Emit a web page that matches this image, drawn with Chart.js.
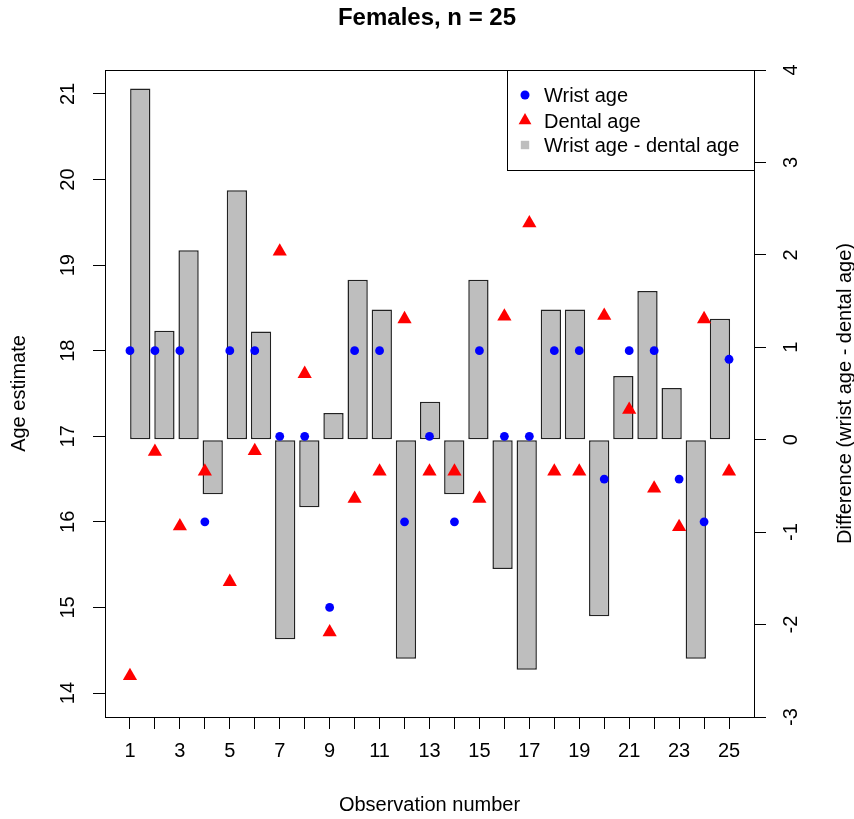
<!DOCTYPE html>
<html>
<head>
<meta charset="utf-8">
<title>Females, n = 25</title>
<script src="https://cdn.jsdelivr.net/npm/chart.js@4/dist/chart.umd.min.js"></script>
<style>
  html, body { margin: 0; padding: 0; background: #fff; }
  #wrap { width: 854px; height: 819px; }
</style>
</head>
<body>
<div id="wrap"><canvas id="ageChart" width="854" height="819"></canvas></div>
<script>
// observation numbers and the three series
const obs = [1, 2, 3, 4, 5, 6, 7, 8, 9, 10, 11, 12, 13, 14, 15, 16, 17, 18, 19, 20, 21, 22, 23, 24, 25];
const wristAge = [18, 18, 18, 16, 18, 18, 17, 17, 15, 18, 18, 16, 17, 16, 18, 17, 17, 18, 18, 16.5, 18, 18, 16.5, 16, 17.9];
const dentalAge = [14.2, 16.82, 15.95, 16.59, 15.3, 16.83, 19.16, 17.73, 14.71, 16.27, 16.59, 18.37, 16.59, 16.59, 16.27, 18.4, 19.49, 16.59, 16.59, 18.41, 17.31, 16.39, 15.94, 18.37, 16.59];
const ageDiff = [3.8, 1.18, 2.05, -0.59, 2.7, 1.17, -2.16, -0.73, 0.29, 1.73, 1.41, -2.37, 0.41, -0.59, 1.73, -1.4, -2.49, 1.41, 1.41, -1.91, 0.69, 1.61, 0.56, -2.37, 1.31];

const ageTicks = [14, 15, 16, 17, 18, 19, 20, 21];
const diffTicks = [-3, -2, -1, 0, 1, 2, 3, 4];

const FONT = '"Liberation Sans", Arial, sans-serif';
Chart.defaults.font.family = FONT;
Chart.defaults.font.size = 20;
Chart.defaults.color = "#000";

const tickGrid = { drawOnChartArea: false, drawTicks: true, tickLength: 12, color: "#000", lineWidth: 1 };
const axisBorder = { display: true, color: "#000", width: 1 };
const setTicks = list => scale => { scale.ticks = list.map(v => ({ value: v })); };

// box round the plot, the right-hand title (reads bottom to top) and the legend
const rFrame = {
  id: "rFrame",
  afterDraw(chart) {
    const { ctx, chartArea: a } = chart;
    ctx.save();
    ctx.strokeStyle = "#000";
    ctx.lineWidth = 1;
    ctx.strokeRect(a.left + 0.5, a.top + 0.5, a.right - a.left, a.bottom - a.top);

    ctx.save();
    ctx.translate(845, (a.top + a.bottom) / 2);
    ctx.rotate(-Math.PI / 2);
    ctx.font = "20px " + FONT;
    ctx.fillStyle = "#000";
    ctx.textAlign = "center";
    ctx.textBaseline = "middle";
    ctx.fillText("Difference (wrist age - dental age)", 0, 0);
    ctx.restore();

    const lw = 247, lh = 100;
    const lx = a.right - lw, ly = a.top;
    ctx.fillStyle = "#fff";
    ctx.fillRect(lx, ly, lw, lh);
    ctx.strokeRect(lx + 0.5, ly + 0.5, lw, lh);

    const rows = [25, 50.5, 75];
    const sx = lx + 18;
    chart.data.datasets.forEach((ds, i) => {
      const y = ly + rows[i];
      ctx.fillStyle = ds.backgroundColor;
      if (ds.type === "bar") {
        ctx.fillRect(sx - 4.2, y - 4.2, 8.4, 8.4);
      } else if (ds.pointStyle === "triangle") {
        const r = 7.4;
        ctx.beginPath();
        ctx.moveTo(sx, y - r);
        ctx.lineTo(sx + r * 0.866, y + r / 2);
        ctx.lineTo(sx - r * 0.866, y + r / 2);
        ctx.closePath();
        ctx.fill();
      } else {
        ctx.beginPath();
        ctx.arc(sx, y, 4.5, 0, Math.PI * 2);
        ctx.fill();
      }
      ctx.fillStyle = "#000";
      ctx.font = "20px " + FONT;
      ctx.textAlign = "left";
      ctx.textBaseline = "middle";
      ctx.fillText(ds.label, lx + 37, y + 1.5);
    });
    ctx.restore();
  }
};

const ctx = document.getElementById("ageChart").getContext("2d");
const ageChart = new Chart(ctx, {
  type: "bar",
  data: {
    datasets: [
      {
        type: "scatter",
        label: "Wrist age",
        data: obs.map((o, i) => ({ x: o, y: wristAge[i] })),
        xAxisID: "x",
        yAxisID: "y",
        pointStyle: "circle",
        pointRadius: 4.4,
        backgroundColor: "#0000FF",
        borderWidth: 0
      },
      {
        type: "scatter",
        label: "Dental age",
        data: obs.map((o, i) => ({ x: o, y: dentalAge[i] })),
        xAxisID: "x",
        yAxisID: "y",
        pointStyle: "triangle",
        pointRadius: 8.2,
        backgroundColor: "#FF0000",
        borderWidth: 0
      },
      {
        type: "bar",
        label: "Wrist age - dental age",
        data: obs.map((o, i) => ({ x: o, y: ageDiff[i] })),
        xAxisID: "x2",
        yAxisID: "y2",
        backgroundColor: "#BEBEBE",
        borderColor: "#222",
        borderWidth: 1.5,
        borderSkipped: false,
        grouped: false,
        barPercentage: 0.84,
        categoryPercentage: 1
      }
    ]
  },
  options: {
    responsive: false,
    devicePixelRatio: 1,
    animation: false,
    events: [],
    layout: { padding: 0 },
    plugins: {
      legend: { display: false },
      tooltip: { enabled: false },
      title: {
        display: true,
        text: "Females, n = 25",
        color: "#000",
        font: { size: 24, weight: "bold" },
        padding: { top: 4, bottom: 37.2 }
      }
    },
    scales: {
      x: {
        type: "linear",
        position: "bottom",
        min: 0,
        max: 26,
        offset: false,
        afterBuildTicks: setTicks(obs),
        afterFit: s => { s.height = 102; },
        grid: Object.assign({ offset: false }, tickGrid),
        border: axisBorder,
        ticks: {
          autoSkip: false,
          minRotation: 0,
          maxRotation: 0,
          padding: 10,
          callback: v => (v % 2 === 1 ? String(v) : "")
        },
        title: { display: true, text: "Observation number", padding: { top: 0, bottom: 2 } }
      },
      x2: {
        type: "linear",
        display: false,
        min: -0.46,
        max: 26.41,
        offset: false,
        afterBuildTicks: setTicks(obs)
      },
      y: {
        type: "linear",
        position: "left",
        min: 13.72,
        max: 21.28,
        afterBuildTicks: setTicks(ageTicks),
        afterFit: s => { s.width = 105; },
        grid: tickGrid,
        border: axisBorder,
        ticks: { minRotation: 90, maxRotation: 90, crossAlign: "center", padding: 13 },
        title: { display: true, text: "Age estimate", padding: { top: 7, bottom: 0 } }
      },
      y2: {
        type: "linear",
        position: "right",
        min: -3,
        max: 4,
        afterBuildTicks: setTicks(diffTicks),
        afterFit: s => { s.width = 100; },
        grid: tickGrid,
        border: axisBorder,
        ticks: { minRotation: 90, maxRotation: 90, crossAlign: "center", padding: 17 }
      }
    }
  },
  plugins: [rFrame]
});
</script>
</body>
</html>
